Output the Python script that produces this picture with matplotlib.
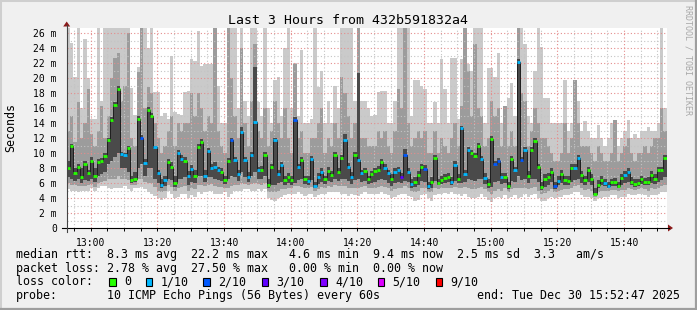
import numpy as np
import matplotlib
matplotlib.use("Agg")
import matplotlib.pyplot as plt
from matplotlib.patches import Rectangle, Polygon
from matplotlib.lines import Line2D

# one sample per minute, 12:52:47 -> 15:52:47
med = [8.0, 10.9, 7.3, 8.2, 6.8, 8.6, 7.3, 9.0, 7.0, 8.75, 8.9, 9.6, 11.7, 14.4, 16.4, 18.6, 9.9, 9.7, 10.7, 6.4, 6.6, 14.6, 12.0, 8.7, 15.8, 14.9, 10.8, 7.3, 5.8, 6.4,
       8.75, 8.2, 6.0, 10.0, 9.2, 9.0, 6.9, 7.9, 7.0, 10.75, 11.5, 7.0, 10.3, 8.0, 8.2, 7.7, 7.5, 6.4, 9.0, 11.7, 9.1, 7.2, 12.8, 9.1, 6.8, 9.7, 14.1, 7.7, 7.8, 9.8,
       5.8, 8.2, 11.7, 7.2, 8.4, 6.4, 6.8, 6.4, 14.4, 8.1, 9.1, 6.5, 6.3, 9.2, 5.6, 6.8, 7.5, 6.5, 7.6, 7.1, 9.7, 7.5, 9.3, 11.7, 8.2, 6.8, 9.7, 9.1, 7.3, 7.6,
       6.5, 7.2, 7.6, 7.8, 8.8, 8.0, 7.3, 6.6, 7.5, 7.7, 6.8, 9.7, 7.5, 5.9, 6.2, 7.1, 8.1, 7.9, 5.6, 6.2, 9.3, 6.0, 6.4, 6.7, 6.8, 6.2, 8.4, 6.6, 13.3, 7.2,
       10.4, 10.0, 9.6, 11.0, 9.2, 6.7, 5.9, 11.9, 8.5, 9.0, 6.8, 6.8, 5.6, 9.2, 7.7, 22.2, 9.1, 10.4, 7.0, 10.4, 11.6, 8.1, 5.5, 6.6, 6.8, 7.5, 5.6, 6.3, 7.2, 6.4,
       6.3, 8.0, 8.0, 9.4, 7.1, 6.4, 7.7, 6.6, 4.6, 5.8, 6.4, 6.0, 5.6, 6.1, 6.1, 5.6, 6.7, 7.1, 7.5, 6.2, 5.9, 6.0, 6.5, 6.1, 6.2, 7.1, 6.6, 7.7, 7.7, 9.4]

loss = [0, 0, 0, 0, 0, 0, 0, 0, 0, 0, 0, 0, 0, 0, 0, 0, 1, 1, 0, 0, 0, 0, 2, 1, 0, 0, 1, 1, 1, 1,
        0, 0, 0, 1, 1, 0, 1, 1, 0, 0, 0, 1, 1, 1, 1, 1, 0, 0, 0, 2, 1, 1, 1, 1, 1, 1, 1, 1, 0, 0,
        0, 0, 1, 1, 1, 0, 0, 0, 2, 1, 0, 0, 1, 1, 1, 1, 1, 0, 0, 0, 0, 0, 0, 1, 1, 1, 0, 1, 1, 0,
        0, 0, 0, 0, 0, 1, 1, 0, 1, 1, 3, 2, 1, 1, 0, 0, 0, 2, 1, 0, 0, 0, 0, 0, 0, 1, 1, 0, 1, 1,
        1, 0, 0, 0, 1, 1, 0, 0, 2, 2, 1, 0, 0, 0, 1, 1, 2, 1, 0, 0, 0, 0, 0, 0, 0, 0, 2, 1, 0, 0,
        0, 0, 1, 1, 0, 0, 0, 0, 0, 0, 0, 1, 1, 0, 0, 0, 0, 1, 1, 0, 0, 0, 0, 0, 0, 0, 0, 0, 0, 0]

# smoke: outer (min/max ping), middle and inner bands
lo = [5.2, 5.0, 5.0, 4.8, 5.0, 4.9, 5.0, 5.3, 4.9, 5.4, 5.6, 5.6, 5.4, 5.2, 5.3, 5.4, 5.4, 5.6, 5.2, 5.0, 5.3, 5.4, 5.5, 5.2, 4.8, 4.6, 4.3, 4.0, 3.8, 4.0,
      5.0, 4.5, 4.0, 4.2, 4.5, 4.6, 4.0, 4.4, 4.2, 4.8, 4.5, 4.8, 5.0, 5.0, 4.6, 4.6, 4.6, 4.8, 4.2, 4.5, 5.0, 5.0, 5.0, 5.2, 5.2, 5.0, 5.0, 5.2, 5.0, 5.2,
      4.0, 3.8, 3.6, 4.0, 4.2, 4.4, 4.5, 4.6, 4.6, 4.8, 4.5, 4.3, 4.6, 4.6, 4.2, 4.4, 4.6, 4.6, 4.8, 4.8, 4.8, 4.8, 4.6, 4.5, 4.3, 4.5, 4.4, 4.3, 4.6, 4.8,
      4.6, 4.5, 4.5, 4.6, 4.8, 4.6, 4.4, 4.0, 4.2, 4.4, 4.5, 4.6, 4.3, 4.2, 3.6, 3.8, 4.4, 4.6, 4.0, 3.6, 4.4, 4.5, 4.6, 4.7, 4.6, 4.8, 4.6, 4.5, 4.3, 4.6,
      4.2, 4.0, 4.0, 4.2, 4.5, 4.2, 3.8, 3.5, 4.0, 4.2, 4.0, 4.4, 4.0, 4.2, 4.4, 4.0, 4.2, 4.5, 4.2, 4.4, 4.6, 4.0, 3.6, 3.6, 4.0, 4.2, 4.0, 4.2, 4.2, 4.4,
      4.4, 4.5, 4.8, 4.8, 4.4, 4.2, 4.2, 4.0, 3.6, 4.0, 4.0, 4.2, 4.2, 4.4, 4.4, 4.0, 4.2, 4.2, 4.6, 4.4, 4.4, 4.6, 4.6, 4.4, 4.2, 4.4, 4.4, 4.6, 4.8, 4.8]

mlo = [6.0, 5.8, 5.8, 5.6, 5.6, 5.6, 5.7, 5.9, 5.5, 6.0, 6.2, 6.3, 6.5, 6.5, 6.6, 7.0, 6.5, 6.5, 6.4, 5.7, 5.8, 6.5, 6.6, 6.2, 6.0, 6.0, 5.5, 5.0, 4.8, 5.0,
       5.8, 5.5, 5.0, 5.3, 5.5, 5.6, 5.0, 5.3, 5.2, 5.8, 5.7, 5.6, 5.8, 5.9, 5.6, 5.5, 5.5, 5.4, 5.4, 5.6, 5.8, 5.7, 6.0, 5.9, 5.8, 5.9, 6.0, 5.9, 5.8, 6.0,
       4.8, 4.8, 4.8, 5.0, 5.2, 5.2, 5.3, 5.3, 5.6, 5.6, 5.5, 5.3, 5.3, 5.5, 4.9, 5.2, 5.5, 5.3, 5.6, 5.5, 5.7, 5.6, 5.6, 5.6, 5.4, 5.3, 5.4, 5.4, 5.5, 5.6,
       5.3, 5.3, 5.4, 5.5, 5.6, 5.5, 5.3, 5.0, 5.2, 5.3, 5.4, 5.6, 5.3, 5.0, 4.8, 4.9, 5.3, 5.4, 4.8, 4.8, 5.4, 5.2, 5.3, 5.4, 5.4, 5.4, 5.5, 5.3, 5.4, 5.5,
       5.3, 5.2, 5.2, 5.4, 5.5, 5.2, 4.8, 4.6, 5.0, 5.2, 5.0, 5.3, 4.8, 5.2, 5.3, 5.3, 5.3, 5.4, 5.2, 5.4, 5.5, 5.0, 4.6, 4.7, 5.0, 5.2, 4.8, 5.0, 5.1, 5.2,
       5.2, 5.4, 5.6, 5.7, 5.3, 5.1, 5.2, 5.0, 4.2, 4.8, 5.0, 5.0, 4.9, 5.1, 5.1, 4.9, 5.1, 5.1, 5.4, 5.2, 5.1, 5.2, 5.3, 5.2, 5.0, 5.3, 5.2, 5.4, 5.6, 5.8]

dlo = [6.8, 6.6, 6.3, 6.5, 6.0, 6.4, 6.3, 6.5, 6.2, 7.0, 7.2, 7.5, 8.5, 9.0, 9.5, 10.0, 8.0, 8.0, 7.5, 6.0, 6.2, 8.0, 8.5, 7.0, 8.0, 8.0, 6.5, 6.0, 5.3, 5.6,
       6.5, 6.4, 5.5, 6.5, 6.6, 6.8, 5.8, 6.2, 6.0, 7.0, 7.0, 6.2, 6.8, 6.8, 6.6, 6.4, 6.3, 5.9, 6.5, 7.0, 6.8, 6.3, 7.5, 6.8, 6.2, 7.0, 7.5, 6.5, 6.5, 7.0,
       5.3, 5.8, 5.8, 6.0, 6.2, 5.8, 6.0, 5.8, 6.0, 6.4, 6.5, 5.9, 5.8, 6.4, 5.3, 5.9, 6.2, 5.9, 6.3, 6.2, 6.6, 6.3, 6.6, 6.6, 6.3, 5.9, 6.4, 6.6, 6.2, 6.3,
       5.9, 6.0, 6.2, 6.4, 6.6, 6.4, 6.0, 5.6, 6.0, 6.2, 6.0, 6.3, 6.1, 5.4, 5.5, 5.8, 6.3, 6.2, 5.2, 5.4, 6.3, 5.7, 5.9, 6.0, 6.1, 5.8, 6.3, 6.0, 6.0, 6.2,
       6.5, 6.4, 6.3, 6.5, 6.5, 5.9, 5.4, 5.5, 6.2, 6.3, 5.9, 6.0, 5.2, 6.3, 6.2, 7.0, 6.4, 6.5, 6.0, 6.5, 6.6, 6.1, 5.1, 5.5, 5.8, 6.2, 5.2, 5.7, 6.0, 5.8,
       5.8, 6.2, 6.4, 6.6, 6.0, 5.8, 6.2, 5.8, 4.6, 5.3, 5.7, 5.6, 5.3, 5.6, 5.6, 5.3, 5.8, 6.0, 6.2, 5.7, 5.5, 5.6, 5.9, 5.7, 5.7, 6.0, 5.9, 6.2, 6.4, 6.8]

dhi = [9.0, 11.2, 8.0, 8.6, 8.0, 9.0, 7.8, 9.5, 8.0, 9.2, 9.4, 10.0, 12.0, 14.8, 16.8, 19.0, 10.2, 10.0, 11.0, 7.0, 7.5, 15.0, 12.4, 9.2, 16.2, 15.4, 11.0, 7.8, 6.6, 7.0,
       9.2, 8.8, 7.0, 10.4, 9.8, 9.5, 7.6, 8.4, 7.8, 11.2, 11.9, 7.8, 10.7, 8.6, 8.8, 8.2, 8.0, 7.0, 9.4, 12.0, 9.5, 7.8, 13.5, 9.5, 7.5, 10.2, 21.5, 8.2, 8.3, 10.2,
       6.5, 8.6, 12.0, 7.8, 8.8, 7.0, 7.4, 7.0, 14.8, 8.6, 9.5, 7.0, 6.9, 9.6, 6.2, 7.4, 8.0, 7.0, 8.1, 7.6, 10.1, 8.0, 9.7, 12.5, 8.7, 7.5, 10.2, 20.7, 7.8, 8.0,
       7.0, 7.6, 8.0, 8.3, 9.2, 8.5, 7.8, 7.2, 8.0, 8.2, 7.4, 10.5, 8.0, 6.5, 6.8, 7.6, 8.6, 8.4, 6.2, 6.8, 9.7, 6.6, 7.0, 7.2, 7.4, 6.8, 8.9, 7.2, 13.6, 7.8,
       10.8, 10.4, 10.0, 11.4, 9.6, 7.3, 6.5, 12.3, 9.0, 9.4, 7.4, 7.4, 6.2, 9.6, 8.2, 22.6, 9.5, 10.8, 7.6, 10.8, 12.0, 8.6, 6.1, 7.2, 7.4, 8.0, 6.2, 6.9, 7.7, 7.0,
       6.9, 8.5, 8.5, 9.8, 7.6, 7.0, 8.2, 7.2, 5.4, 6.4, 7.0, 6.6, 6.2, 6.6, 6.7, 6.2, 7.2, 7.6, 8.0, 6.8, 6.5, 6.6, 7.0, 6.7, 6.8, 7.6, 7.2, 8.2, 8.2, 9.7]

mhi = [13, 15, 11.5, 16.8, 12, 14, 18.5, 12.5, 11, 13, 16.3, 12, 15, 20, 22.7, 23.4, 17, 19, 26, 12, 11, 20.8, 27, 16, 18.8, 18, 14, 12, 10, 11,
       13, 15, 11, 14, 13, 14, 14, 18, 15, 18, 16, 13, 15, 14, 27, 13, 11, 10, 27, 20, 15, 12, 24, 14, 11, 17, 24.5, 13, 12, 16,
       11, 13, 17, 14, 12, 16, 12, 10, 21.9, 12, 13, 10, 10, 12, 12, 14, 16, 10, 12, 11, 14, 12, 20.2, 18, 15, 12, 14, 27, 12, 12,
       11, 11, 11, 13, 12, 13, 11, 10, 13, 18.5, 16, 27, 14, 11, 12, 13, 12, 13, 10, 10, 13, 10, 12, 11, 10, 12, 14, 11, 16.3, 27,
       20.9, 15, 24.5, 16, 15, 11, 12, 17, 15, 16, 11, 16.3, 11, 13, 11, 27, 18, 17, 11, 13, 16, 14, 12, 12, 11, 10, 9, 9, 10, 14,
       10, 12, 19.8, 14, 11, 11, 11, 10, 9, 11, 10, 9, 9, 10, 14.4, 9, 10, 11, 12, 10, 9, 10, 10, 11, 10, 11, 12, 12, 16, 13]

hi = [27, 24.7, 20.2, 27, 16, 25.2, 20, 14.6, 14.6, 27, 17, 27, 27, 27, 27, 27, 27, 27, 27, 18.7, 15.1, 21.5, 27, 27, 24, 27, 18.1, 18.1, 15, 15.3,
      14.5, 23.0, 15.5, 15.2, 15.1, 18.1, 18.3, 22.5, 22.3, 26.3, 21.6, 21.9, 21.9, 21.9, 27, 19.0, 14.0, 14.0, 27, 27, 27, 16, 27, 17, 15, 27, 27, 16.8, 15, 27,
      16, 14, 19.7, 20.2, 15, 24, 27, 16, 22, 15, 23.7, 14, 14, 14.5, 27, 18.8, 20.9, 14, 17, 14, 18.9, 16, 27, 27, 27, 27, 17, 27, 17, 17,
      16, 15, 15.1, 18.1, 18.3, 18.3, 14, 14, 17, 27, 27, 27, 27, 15, 19.7, 19.7, 18.9, 18.5, 14, 14, 16.8, 14, 22.5, 18.5, 14, 22.7, 22.7, 14.5, 22.5, 27,
      21.9, 21.0, 27, 27, 27, 14, 21.4, 21.4, 20.2, 23.3, 14, 16.3, 17.3, 19.3, 15, 27, 27, 24.6, 15, 14, 21.0, 27, 24.2, 17.3, 17.3, 14, 14, 14, 14, 19.7,
      13, 14, 19.8, 16.9, 13, 14.3, 13, 12, 12, 13.7, 12, 11, 12, 14, 14.4, 11, 12, 13, 14.4, 12, 12.5, 12, 13, 13, 13.5, 12.9, 13, 14, 27, 16]

time_labels = ["13:00", "13:20", "13:40", "14:00", "14:20", "14:40", "15:00", "15:20", "15:40"]
first_label_min = 7.217  # 13:00:00 is 7.217 min after 12:52:47
ms_ticks = list(range(0, 27, 2))
ms_labels = ["0"] + ["%d m" % v for v in ms_ticks[1:]]

loss_names = ["0", "1/10", "2/10", "3/10", "4/10", "5/10", "9/10"]
loss_colors = ["#26ff00", "#00b8ff", "#0059ff", "#5e00ff", "#7e00ff", "#dd00ff", "#ff0000"]

W, H = 697, 310
MONO = "DejaVu Sans Mono"


def fx(x):
    return x / W


def fy(y):
    return 1 - y / H


fig = plt.figure(figsize=(W / 100, H / 100), dpi=100, facecolor="#f0f0f0")

# 3D-ish frame
fig.add_artist(Rectangle((0, 0), 1, 1, transform=fig.transFigure, fill=False, edgecolor="#cfcfcf", lw=2.2))
fig.add_artist(Line2D([fx(1), fx(696)], [fy(309), fy(309)], color="#9e9e9e", lw=1.6))
fig.add_artist(Line2D([fx(696), fx(696)], [fy(309), fy(1)], color="#9e9e9e", lw=1.6))

ax = fig.add_axes([fx(66.7), fy(228), 600 / W, 200 / H])
ax.set_facecolor("white")
ax.set_xlim(0, 180)
ax.set_ylim(0, 26.67)

n = len(med)
edges = np.arange(n + 1)

ax.stairs(hi, edges, baseline=lo, fill=True, color="#cacaca", lw=0, zorder=1)
ax.stairs(mhi, edges, baseline=mlo, fill=True, color="#9c9c9c", lw=0, zorder=1.1)
ax.stairs(dhi, edges, baseline=dlo, fill=True, color="#4a4a4a", lw=0, zorder=2.5)

# dotted grid on top of the outer smoke
major_x = [first_label_min + 20 * k for k in range(len(time_labels))]
minor_x = [v for v in np.arange(first_label_min - 5, 180, 5) if all(abs(v - m) > 0.1 for m in major_x)]
dots = (0, (1, 2))
grid_kw = dict(linestyles=dots, lw=0.8)
ax.vlines(minor_x, 0, 26.67, colors="#c4c4c4", zorder=2, **grid_kw)
ax.hlines(range(1, 27, 2), 0, 180, colors="#c4c4c4", zorder=2, **grid_kw)
ax.vlines(major_x, 0, 26.67, colors="#e58c8c", zorder=2.1, **grid_kw)
ax.hlines(ms_ticks[1:], 0, 180, colors="#e58c8c", zorder=2.1, **grid_kw)

# median: thin dark step line plus loss coloured segments
ax.stairs(med, edges, baseline=None, color="#202020", lw=0.72, zorder=3)
seg_colors = [loss_colors[min(l, 5)] for l in loss]
ax.hlines(med, edges[:-1], edges[1:], colors=seg_colors, lw=2.0, zorder=4)

ax.set_xticks(major_x)
ax.set_xticklabels(time_labels, family=MONO, fontsize=7)
ax.set_xticks(minor_x, minor=True)
ax.set_yticks(ms_ticks)
ax.set_yticklabels(ms_labels, family=MONO, fontsize=7)
ax.tick_params(axis="x", which="both", length=2, width=0.7, pad=5, direction="out")
ax.tick_params(axis="y", which="both", length=0, pad=7)
for s in ax.spines.values():
    s.set_visible(False)

# axes lines with arrows
fig.add_artist(Line2D([fx(62), fx(669)], [fy(228), fy(228)], color="black", lw=0.8))
fig.add_artist(Line2D([fx(66.7), fx(66.7)], [fy(232), fy(25)], color="#444444", lw=0.8))
fig.add_artist(Polygon([[fx(668), fy(224.5)], [fx(673), fy(228)], [fx(668), fy(231.5)]],
                       closed=True, transform=fig.transFigure, color="#8b1a1a", lw=0))
fig.add_artist(Polygon([[fx(63.2), fy(26.5)], [fx(66.7), fy(21.5)], [fx(70.2), fy(26.5)]],
                       closed=True, transform=fig.transFigure, color="#8b1a1a", lw=0))

fig.text(fx(348), fy(23.5), "Last 3 Hours from 432b591832a4", ha="center", va="baseline",
         fontsize=9.5, family=MONO)
fig.text(fx(11), fy(128), "Seconds", rotation=90, ha="center", va="center", fontsize=8.4, family=MONO)
fig.text(fx(688), fy(5), "RRDTOOL / TOBI OETIKER", rotation=270, ha="center", va="top",
         fontsize=6, family=MONO, color="#a8a8a8")

fs = 8.4
fig.text(fx(16), fy(258.3),
         "median rtt:  8.3 ms avg  22.2 ms max   4.6 ms min  9.4 ms now  2.5 ms sd  3.3   am/s",
         fontsize=fs, family=MONO, va="baseline")
fig.text(fx(16), fy(271.8),
         "packet loss: 2.78 % avg  27.50 % max   0.00 % min  0.00 % now",
         fontsize=fs, family=MONO, va="baseline")
fig.text(fx(16), fy(285.4), "loss color:", fontsize=fs, family=MONO, va="baseline")
box_x = [109, 145.7, 203.3, 261.7, 320, 377.7, 435.7]
for bx, name, col in zip(box_x, loss_names, loss_colors):
    fig.add_artist(Rectangle((fx(bx), fy(285.6)), 6.7 / W, 7.8 / H, transform=fig.transFigure,
                             facecolor=col, edgecolor="black", lw=0.8))
    fig.text(fx(bx + 15), fy(285.4), name, fontsize=fs, family=MONO, va="baseline")
fig.text(fx(16), fy(299.2), "probe:", fontsize=fs, family=MONO, va="baseline")
fig.text(fx(107.3), fy(299.2), "10 ICMP Echo Pings (56 Bytes) every 60s", fontsize=fs, family=MONO, va="baseline")
fig.text(fx(680), fy(299.2), "end: Tue Dec 30 15:52:47 2025", fontsize=fs, family=MONO, va="baseline", ha="right")

fig.savefig("out.png", dpi=100, facecolor=fig.get_facecolor())
